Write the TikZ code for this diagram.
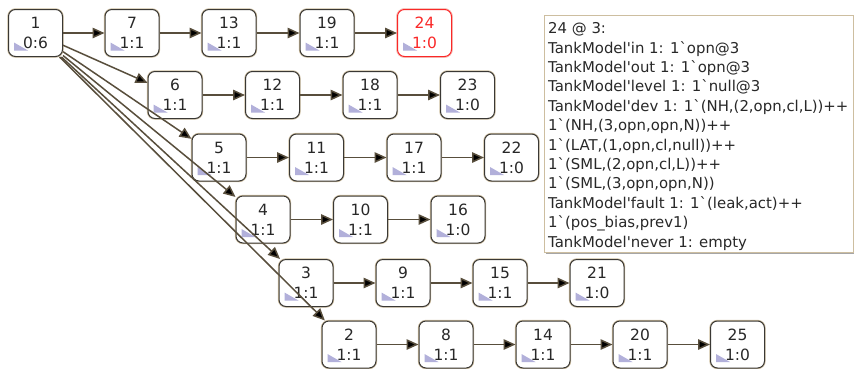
\documentclass[tikz,border=0pt]{standalone}
\usepackage{fontspec}
\setmainfont{DejaVu Sans}
\usetikzlibrary{arrows.meta}
\definecolor{stateborder}{RGB}{58,56,52}
\definecolor{statehalo}{RGB}{205,190,160}
\definecolor{edgecol}{RGB}{88,78,60}
\definecolor{marker}{RGB}{178,176,218}
\definecolor{txt}{RGB}{40,40,40}
\definecolor{deadred}{RGB}{250,40,40}
\definecolor{deadhalo}{RGB}{255,190,190}
\newcommand{\myapo}{\textquotesingle}
\newcommand{\mybq}{\textasciigrave}
\tikzset{
  state/.style={draw=stateborder, line width=1pt, fill=white,
    preaction={draw=statehalo, line width=2.4pt},
    rounded corners=7pt, minimum width=54pt, minimum height=47pt,
    inner sep=0pt, align=center, text=txt,
    font=\fontsize{15.5}{20}\selectfont,
    path picture={\fill[marker, sharp corners]
      ([xshift=5.5pt,yshift=6pt]path picture bounding box.south west)
      -- ++(0,8pt) -- ++(14pt,-8pt) -- cycle;}},
  dead/.style={state, draw=deadred, text=deadred,
    preaction={draw=deadhalo, line width=2.4pt}},
  succ/.style={draw=edgecol, line width=1.5pt,
    -{Triangle[length=12pt,width=10.5pt,fill=black]}},
  infobox/.style={draw=statehalo, line width=1.4pt, fill=white,
    minimum width=309pt, minimum height=237pt, inner sep=0pt,
    preaction={fill=black!35, transform canvas={xshift=1.5pt,yshift=-1.5pt}}},
  infotext/.style={anchor=north west, align=left, inner sep=0pt, text=txt,
    font=\fontsize{14.9}{19.4}\selectfont}
}
\begin{document}
\begin{tikzpicture}[x=1pt,y=-1pt]
\useasboundingbox (0,0) rectangle (854,368);
% row 1
\node[state] (n1)  at (35.5,33) {1\\0:6};
\node[state] (n7)  at (132,33) {7\\1:1};
\node[state] (n13) at (229,33) {13\\1:1};
\node[state] (n19) at (327,33) {19\\1:1};
\node[dead]  (n24) at (424.5,33) {24\\1:0};
% row 2
\node[state] (n6)  at (175,95) {6\\1:1};
\node[state] (n12) at (272.5,95) {12\\1:1};
\node[state] (n18) at (370,95) {18\\1:1};
\node[state] (n23) at (467.5,95) {23\\1:0};
% row 3
\node[state] (n5)  at (219,157.5) {5\\1:1};
\node[state] (n11) at (316.5,157.5) {11\\1:1};
\node[state] (n17) at (414,157.5) {17\\1:1};
\node[state] (n22) at (511.5,157.5) {22\\1:0};
% row 4
\node[state] (n4)  at (263,219.5) {4\\1:1};
\node[state] (n10) at (360.5,219.5) {10\\1:1};
\node[state] (n16) at (458,219.5) {16\\1:0};
% row 5
\node[state] (n3)  at (306,283) {3\\1:1};
\node[state] (n9)  at (403,283) {9\\1:1};
\node[state] (n15) at (500,283) {15\\1:1};
\node[state] (n21) at (597,283) {21\\1:0};
% row 6
\node[state] (n2)  at (349,344.5) {2\\1:1};
\node[state] (n8)  at (446,344.5) {8\\1:1};
\node[state] (n14) at (543,344.5) {14\\1:1};
\node[state] (n20) at (640,344.5) {20\\1:1};
\node[state] (n25) at (737.5,344.5) {25\\1:0};
% successor arcs
\draw[succ] (n1) -- (n7);
\draw[succ] (n7) -- (n13);
\draw[succ] (n13) -- (n19);
\draw[succ] (n19) -- (n24);
\draw[succ] (n6) -- (n12);
\draw[succ] (n12) -- (n18);
\draw[succ] (n18) -- (n23);
\draw[succ] (n5) -- (n11);
\draw[succ] (n11) -- (n17);
\draw[succ] (n17) -- (n22);
\draw[succ] (n4) -- (n10);
\draw[succ] (n10) -- (n16);
\draw[succ] (n3) -- (n9);
\draw[succ] (n9) -- (n15);
\draw[succ] (n15) -- (n21);
\draw[succ] (n2) -- (n8);
\draw[succ] (n8) -- (n14);
\draw[succ] (n14) -- (n20);
\draw[succ] (n20) -- (n25);
\draw[succ] (n1) -- (n6);
\draw[succ] (n1) -- (n5);
\draw[succ] (n1) -- (n4);
\draw[succ] (n1) -- (n3);
\draw[succ] (n1) -- (n2);
% marking of state 24
\node[infobox, anchor=north west] (box) at (543.5,14.5) {};
\node[infotext] (info) at ([xshift=4.5pt,yshift=-8pt]box.north west) {%
24 @ 3:\\
TankModel\myapo in 1: 1\mybq opn@3\\
TankModel\myapo out 1: 1\mybq opn@3\\
TankModel\myapo level 1: 1\mybq null@3\\
TankModel\myapo dev 1: 1\mybq(NH,(2,opn,cl,L))++\\
1\mybq(NH,(3,opn,opn,N))++\\
1\mybq(LAT,(1,opn,cl,null))++\\
1\mybq(SML,(2,opn,cl,L))++\\
1\mybq(SML,(3,opn,opn,N))\\
TankModel\myapo fault 1: 1\mybq(leak,act)++\\
1\mybq(pos\_bias,prev1)\\
TankModel\myapo never 1: empty};
\end{tikzpicture}
\end{document}
